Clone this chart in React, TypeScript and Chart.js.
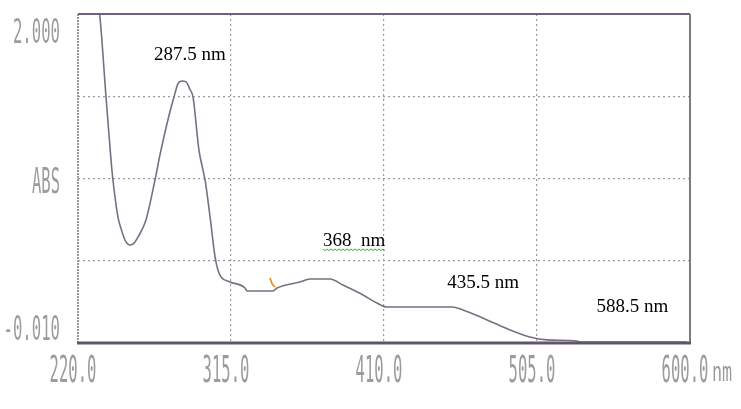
import React, { useEffect, useRef } from "react";
import { Chart, registerables } from "chart.js";

Chart.register(...registerables);

// Spectrum (wavelength nm, absorbance)
const wavelengths = [
  232.4, 233.5, 237.4, 240.5, 241.7, 244.8, 247.0, 249.2, 252.3, 254.8, 257.3, 262.2, 267.8, 270.9,
  276.0, 279.6, 282.1, 284.6, 287.1, 289.5, 291.4, 295.1, 297.6, 298.9, 302.0, 305.1, 306.9, 308.8,
  314.4, 323.7, 324.9, 341.1, 343.6, 357.8, 364.0, 376.5, 384.5, 397.0, 405.6, 411.9,
  452.2, 459.0, 474.0, 488.2, 500.6, 511.2, 529.8, 531.7, 598.1,
];
const absorbance = [
  2.06, 1.994, 1.493, 1.108, 0.986, 0.76, 0.68, 0.619, 0.589, 0.6, 0.638, 0.742, 0.986, 1.139,
  1.36, 1.493, 1.575, 1.591, 1.585, 1.54, 1.493, 1.169, 1.047, 0.986, 0.76, 0.516, 0.436, 0.393,
  0.363, 0.326, 0.308, 0.308, 0.326, 0.363, 0.381, 0.381, 0.344, 0.283, 0.234, 0.21,
  0.21, 0.192, 0.131, 0.07, 0.027, 0.009, 0.002, -0.004, -0.004,
];
// small orange pen mark
const markX = [339.2, 340.6, 342.3];
const markY = [0.387, 0.35, 0.332];

const xTickValues = [220, 315, 410, 505, 600];
const xTickLabels = ["220.0", "315.0", "410.0", "505.0", "600.0"];
const yTickValues = [-0.01, 0.4925, 0.995, 1.4975, 2.0];
const yTickLabels = ["-0.010", "", "ABS", "", "2.000"];
const xUnit = "nm";

const peakTexts = ["287.5 nm", "368  nm", "435.5 nm", "588.5 nm"];
const peakTextX = [289.5, 391.4, 471.5, 564.3];
const peakTextY = [1.75, 0.613, 0.357, 0.21];

function condensed(
  ctx: CanvasRenderingContext2D,
  text: string,
  x: number,
  y: number,
  size: number,
  sx: number,
  align: CanvasTextAlign
) {
  ctx.save();
  ctx.translate(x, y);
  ctx.scale(sx, 1);
  ctx.font = `${size}px "DejaVu Sans Mono"`;
  ctx.textAlign = align;
  ctx.textBaseline = "alphabetic";
  ctx.fillStyle = "#9c9c9c";
  ctx.fillText(text, 0, 0);
  ctx.restore();
}

const decorPlugin = {
  id: "decor",
  afterDraw(chart: any) {
    const ctx: CanvasRenderingContext2D = chart.ctx;
    const { left, right, top, bottom } = chart.chartArea;
    const xs = chart.scales.x;
    const ys = chart.scales.y;

    // frame
    ctx.save();
    ctx.strokeStyle = "#9a96a0";
    ctx.lineWidth = 2;
    ctx.setLineDash([2, 1]);
    ctx.beginPath();
    ctx.moveTo(left, top);
    ctx.lineTo(left, bottom);
    ctx.stroke();
    ctx.setLineDash([]);
    ctx.strokeStyle = "#6f5f86";
    ctx.lineWidth = 2;
    ctx.beginPath();
    ctx.moveTo(left, top);
    ctx.lineTo(right, top);
    ctx.stroke();
    ctx.strokeStyle = "#7d7a82";
    ctx.lineWidth = 2;
    ctx.beginPath();
    ctx.moveTo(right, top);
    ctx.lineTo(right, bottom);
    ctx.stroke();
    ctx.strokeStyle = "#5e5668";
    ctx.lineWidth = 3;
    ctx.beginPath();
    ctx.moveTo(left - 1, bottom);
    ctx.lineTo(right + 1, bottom);
    ctx.stroke();
    ctx.restore();

    // x tick labels
    xTickValues.forEach((v, i) => {
      const px = xs.getPixelForValue(v);
      condensed(ctx, xTickLabels[i], px - 5, bottom + 39, 37, 0.42, "center");
    });
    condensed(ctx, xUnit, right + 22, bottom + 38, 27, 0.62, "left");

    // y tick labels
    yTickValues.forEach((v, i) => {
      const t = yTickLabels[i];
      if (!t) return;
      const py = ys.getPixelForValue(v);
      let off = 14;
      let size = 34;
      let sx = 0.46;
      if (i === 0) off = -3;
      else if (i === yTickValues.length - 1) off = 29;
      else {
        size = 36;
        sx = 0.43;
      }
      condensed(ctx, t, left - 18, py + off, size, sx, "right");
    });

    // peak annotations
    ctx.save();
    ctx.font = '19px "Liberation Serif"';
    ctx.fillStyle = "#000";
    ctx.textAlign = "center";
    ctx.textBaseline = "middle";
    peakTexts.forEach((t, i) => {
      const px = xs.getPixelForValue(peakTextX[i]);
      const py = ys.getPixelForValue(peakTextY[i]);
      ctx.fillText(t, px, py);
      if (i === 1) {
        const w = ctx.measureText(t).width;
        ctx.strokeStyle = "#3aa53a";
        ctx.lineWidth = 1;
        ctx.beginPath();
        const y0 = py + 8;
        let k = 0;
        for (let x = px - w / 2; x <= px + w / 2; x += 2) {
          const y = y0 + (k % 2 === 0 ? 0 : 1.5);
          if (k === 0) ctx.moveTo(x, y);
          else ctx.lineTo(x, y);
          k++;
        }
        ctx.stroke();
      }
    });
    ctx.restore();
  },
};

export default function App() {
  const ref = useRef<HTMLCanvasElement>(null);

  useEffect(() => {
    if (!ref.current) return;
    const chart = new Chart(ref.current, {
      type: "line",
      data: {
        datasets: [
          {
            data: wavelengths.map((x, i) => ({ x, y: absorbance[i] })),
            borderColor: "#7a6e82",
            borderWidth: 1.6,
            pointRadius: 0,
            cubicInterpolationMode: "monotone",
            fill: false,
          },
          {
            data: markX.map((x, i) => ({ x, y: markY[i] })),
            borderColor: "#e08a1a",
            borderWidth: 1.6,
            pointRadius: 0,
            tension: 0,
            fill: false,
          },
        ],
      },
      options: {
        animation: false,
        responsive: false,
        maintainAspectRatio: false,
        layout: { padding: { left: 78, right: 51, top: 14, bottom: 66 } },
        plugins: { legend: { display: false }, tooltip: { enabled: false } },
        scales: {
          x: {
            type: "linear",
            min: 220,
            max: 600,
            afterBuildTicks: (s: any) => {
              s.ticks = xTickValues.map((v) => ({ value: v }));
            },
            ticks: { display: false },
            border: { display: false, dash: [2, 3] },
            grid: {
              drawTicks: false,
              color: (c: any) =>
                c.index === 0 || c.index === xTickValues.length - 1 ? "rgba(0,0,0,0)" : "#9a9a9a",
              lineWidth: 1.2,
            },
          },
          y: {
            type: "linear",
            min: -0.01,
            max: 2.0,
            afterBuildTicks: (s: any) => {
              s.ticks = yTickValues.map((v) => ({ value: v }));
            },
            ticks: { display: false },
            border: { display: false, dash: [2, 3] },
            grid: {
              drawTicks: false,
              color: (c: any) =>
                c.index === 0 || c.index === yTickValues.length - 1 ? "rgba(0,0,0,0)" : "#9a9a9a",
              lineWidth: 1.2,
            },
          },
        },
      },
      plugins: [decorPlugin],
    } as any);
    return () => chart.destroy();
  }, []);

  return (
    <div style={{ position: "absolute", left: 0, top: 0, width: 741, height: 409, background: "#fff" }}>
      <canvas ref={ref} width={741} height={409} />
    </div>
  );
}
